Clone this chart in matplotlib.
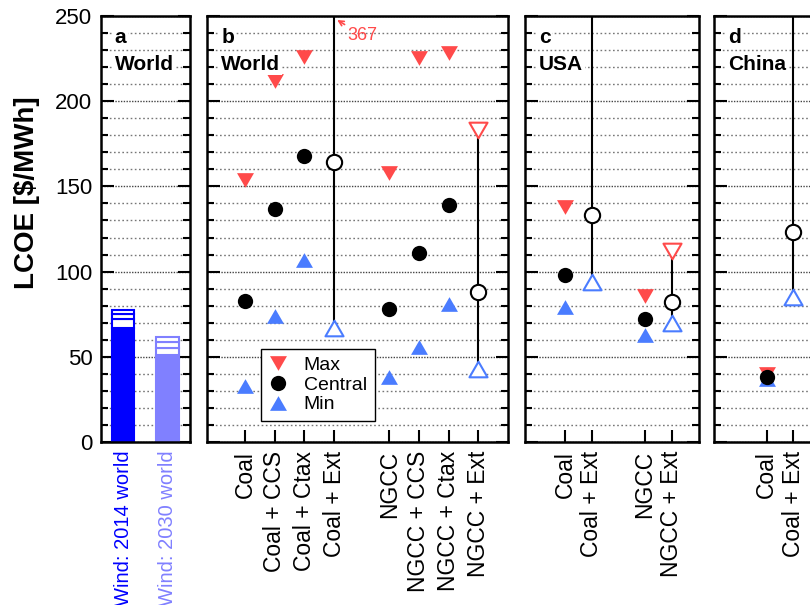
import matplotlib
matplotlib.use('Agg')
import matplotlib.pyplot as plt
from matplotlib.path import Path
from matplotlib.lines import Line2D
from matplotlib.ticker import MultipleLocator
import matplotlib.transforms as mtransforms

plt.rcParams['font.family'] = ['Liberation Sans', 'DejaVu Sans']

# ---- data (LCOE in $/MWh) ----
# panel a: wind, solid base plus three outlined steps on top
wind_labels = ['Wind: 2014 world', 'Wind: 2030 world']
wind_base = [67.1, 51.0]
wind_steps = [[72.2, 75.3, 77.5], [55.0, 58.7, 61.6]]

# panel b: world
b_labels = ['Coal', 'Coal + CCS', 'Coal + Ctax', 'Coal + Ext',
            'NGCC', 'NGCC + CCS', 'NGCC + Ctax', 'NGCC + Ext']
b_max = [154, 212, 226, 367, 158, 225, 228, 183]
b_central = [83, 137, 168, 164, 78, 111, 139, 88]
b_min = [33, 74, 107, 67, 38, 56, 81, 43]

# panel c: USA  (coal + ext max is off the scale)
c_labels = ['Coal', 'Coal + Ext', 'NGCC', 'NGCC + Ext']
c_max = [138, 300, 86, 112]
c_central = [98, 133, 72, 82]
c_min = [79, 94, 63, 70]

# panel d: China  (coal + ext max is off the scale)
d_labels = ['Coal', 'Coal + Ext']
d_max = [40, 300]
d_central = [38, 123]
d_min = [37, 85]

RED = '#ff4a4a'
BLUE = '#4a7cff'

tri_down = Path([(-1, 0.866), (1, 0.866), (0, -0.866), (-1, 0.866)],
                [Path.MOVETO, Path.LINETO, Path.LINETO, Path.CLOSEPOLY])
tri_up = Path([(-1, -0.866), (1, -0.866), (0, 0.866), (-1, -0.866)],
              [Path.MOVETO, Path.LINETO, Path.LINETO, Path.CLOSEPOLY])

fig = plt.figure(figsize=(8.1, 6.05), dpi=100)
W, H = 810.0, 605.0
bot = (H - 442.3) / H
hgt = (442.3 - 15.7) / H


def make_ax(left, width):
    return fig.add_axes([left / W, bot, width / W, hgt])


def style_axis(ax, xpos, labels, xlim, show_y):
    ax.set_ylim(0, 250)
    ax.set_xlim(*xlim)
    ax.set_axisbelow(True)
    ax.yaxis.set_major_locator(MultipleLocator(50))
    ax.yaxis.set_minor_locator(MultipleLocator(10))
    ax.tick_params(axis='y', which='both', direction='in', left=True, right=True,
                   labelleft=show_y, width=1.5, labelsize=16, pad=6)
    ax.tick_params(axis='y', which='major', length=9)
    ax.tick_params(axis='y', which='minor', length=5)
    ax.set_xticks(xpos)
    ax.set_xticklabels(labels, rotation=90)
    ax.tick_params(axis='x', direction='in', length=9, width=1.5, top=False,
                   labelsize=16.5, pad=6)
    ax.grid(True, axis='y', which='major', color='#444444', lw=1.0, linestyle=(0, (1, 1)))
    ax.grid(True, axis='y', which='minor', color='#777777', lw=1.0, linestyle=(0, (1.2, 1.8)))
    for s in ax.spines.values():
        s.set_linewidth(1.8)


def panel_text(ax, letter, region):
    t1 = mtransforms.offset_copy(ax.transAxes, fig=fig, x=14, y=-27, units='dots')
    t2 = mtransforms.offset_copy(ax.transAxes, fig=fig, x=14, y=-54, units='dots')
    box = dict(facecolor='white', edgecolor='none', pad=1)
    ax.text(0, 1, letter, transform=t1, fontsize=15, fontweight='bold', va='baseline', bbox=box)
    ax.text(0, 1, region, transform=t2, fontsize=15, fontweight='bold', va='baseline', bbox=box)


def draw_points(ax, xpos, labels, mx, ce, mn):
    for x, lab, hi, mid, lo in zip(xpos, labels, mx, ce, mn):
        if lab.endswith('Ext'):
            ax.plot([x, x], [lo, hi], color='black', lw=1.5, zorder=2)
            ax.plot(x, hi, marker=tri_down, ms=13, mfc='white', mec=RED, mew=1.5, ls='none', zorder=3)
            ax.plot(x, lo, marker=tri_up, ms=13, mfc='white', mec=BLUE, mew=1.5, ls='none', zorder=3)
            ax.plot(x, mid, marker='o', ms=11, mfc='white', mec='black', mew=1.5, ls='none', zorder=3)
        else:
            ax.plot(x, hi, marker=tri_down, ms=12.2, color=RED, mew=0, ls='none', zorder=3)
            ax.plot(x, lo, marker=tri_up, ms=12.2, color=BLUE, mew=0, ls='none', zorder=3)
            ax.plot(x, mid, marker='o', ms=11, color='black', mew=0, ls='none', zorder=4)


# ---- panel a ----
ax_a = make_ax(100.7, 89.3)
a_x = [1, 2]
style_axis(ax_a, a_x, wind_labels, (0.49, 2.51), True)
bar_cols = ['#0000ff', '#8080ff']
for x, base, steps, col in zip(a_x, wind_base, wind_steps, bar_cols):
    ax_a.bar(x, base, width=0.5, color=col, edgecolor=col, lw=1.5, zorder=2)
    prev = base
    for top in steps:
        ax_a.bar(x, top - prev, bottom=prev, width=0.5, color='white', edgecolor=col,
                 lw=1.5, zorder=2)
        prev = top
for lbl, col in zip(ax_a.get_xticklabels(), bar_cols):
    lbl.set_color(col)
    lbl.set_fontsize(14.5)
panel_text(ax_a, 'a', 'World')

# ---- panel b ----
ax_b = make_ax(207.3, 301.0)
b_x = [1, 2, 3, 4, 5.85, 6.85, 7.85, 8.85]
style_axis(ax_b, b_x, b_labels, (-0.27, 9.86), False)
draw_points(ax_b, b_x, b_labels, b_max, b_central, b_min)
panel_text(ax_b, 'b', 'World')
ax_b.annotate(str(b_max[3]), xy=(b_x[3] + 0.1, 247.5), xytext=(b_x[3] + 0.95, 238.5),
              color=RED, fontsize=13, ha='center', va='center',
              arrowprops=dict(arrowstyle='->', color=RED, lw=1.2, shrinkA=0, shrinkB=0,
                              mutation_scale=9))
handles = [Line2D([], [], marker=tri_down, color=RED, mew=0, ms=12.2, ls='none'),
           Line2D([], [], marker='o', color='black', mew=0, ms=11, ls='none'),
           Line2D([], [], marker=tri_up, color=BLUE, mew=0, ms=12.2, ls='none')]
leg = ax_b.legend(handles, ['Max', 'Central', 'Min'], loc='upper left',
                  bbox_to_anchor=(0.178, 0.219), borderaxespad=0, fontsize=14,
                  handlelength=1.0, handletextpad=0.8, labelspacing=0.1,
                  borderpad=0.4, fancybox=False, framealpha=1, edgecolor='black')
leg.get_frame().set_linewidth(1.0)

# ---- panel c ----
ax_c = make_ax(525.0, 174.0)
c_x = [1, 2, 4, 5]
style_axis(ax_c, c_x, c_labels, (-0.5, 6.02), False)
draw_points(ax_c, c_x, c_labels, c_max, c_central, c_min)
panel_text(ax_c, 'c', 'USA')

# ---- panel d (runs off the right edge) ----
ax_d = make_ax(714.0, 174.0)
d_x = [1, 2]
style_axis(ax_d, d_x, d_labels, (-0.97, 5.55), False)
draw_points(ax_d, d_x, d_labels, d_max, d_central, d_min)
panel_text(ax_d, 'd', 'China')

fig.text(27 / W, 1 - 193 / H, 'LCOE [$/MWh]', rotation=90, ha='center', va='center',
         fontsize=20, fontweight='bold')

fig.savefig('out.png', dpi=100)
